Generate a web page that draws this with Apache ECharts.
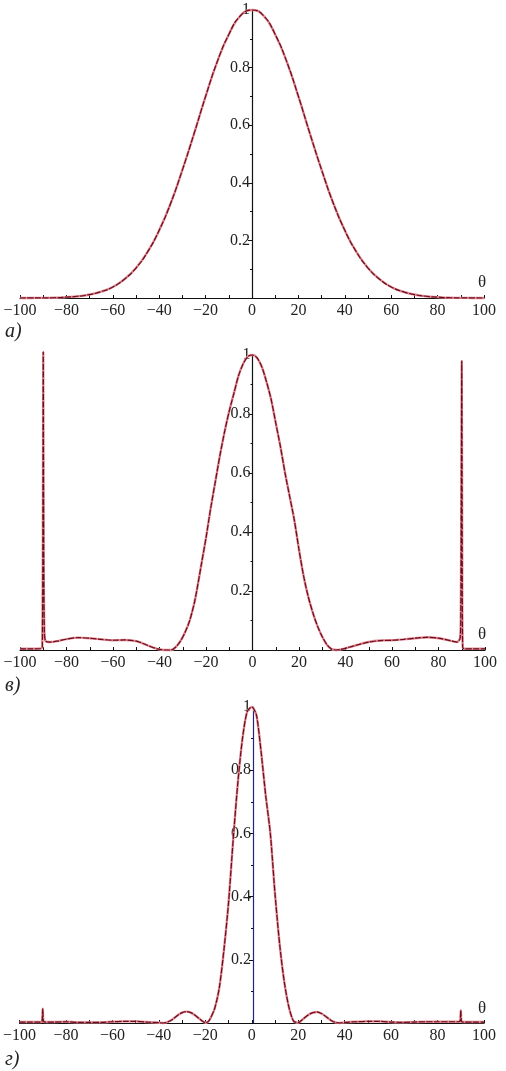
<!DOCTYPE html>
<html>
<head>
<meta charset="utf-8">
<script src="https://cdn.jsdelivr.net/npm/echarts@6/dist/echarts.min.js"></script>
<style>
  html, body { margin: 0; padding: 0; background: #fff; }
  #chart { width: 506px; height: 1071px; }
</style>
</head>
<body>
<div id="chart"></div>
<script>
// панель а)
const thetaA = [-100, -95, -90, -85, -80, -75, -70, -65, -60, -55, -50, -45, -40, -35, -30, -25, -20, -15, -10, -5,
  0, 5, 10, 15, 20, 25, 30, 35, 40, 45, 50, 55, 60, 65, 70, 75, 80, 85, 90, 95, 100]
const powerA = [0, 0.0002, 0.0005, 0.001, 0.003, 0.006, 0.012, 0.022, 0.038, 0.065, 0.104, 0.16, 0.235, 0.33, 0.445, 0.57, 0.70, 0.82, 0.915, 0.98,
  1, 0.98, 0.915, 0.82, 0.70, 0.57, 0.445, 0.33, 0.235, 0.16, 0.104, 0.065, 0.038, 0.022, 0.012, 0.006, 0.003, 0.001, 0.0005, 0.0002, 0]

// панель в)
const thetaB = [-100, -95, -91, -90.4, -90.1, -90, -89.8, -89.5, -89, -87, -84, -80, -75, -70, -65, -60, -55, -50, -47, -44, -41, -38, -35,
  -33, -31, -29, -27, -25, -24, -22, -20, -18, -16, -14, -12, -10, -8, -6, -4, -2,
  0, 2, 4, 6, 8, 10, 12, 14, 16, 18, 20, 22, 24, 26, 28, 30, 32, 34, 36,
  38, 41, 45, 50, 55, 60, 65, 70, 75, 80, 85, 88, 89.3, 89.6, 89.8, 90, 90.2, 90.4, 91, 95, 100]
const powerB = [0.004, 0.004, 0.005, 0.01, 0.6, 1.01, 0.3, 0.06, 0.03, 0.027, 0.03, 0.037, 0.042, 0.04, 0.036, 0.033, 0.034, 0.03, 0.022, 0.012, 0.004, 0, 0,
  0.01, 0.03, 0.06, 0.1, 0.16, 0.2, 0.29, 0.38, 0.48, 0.57, 0.66, 0.74, 0.81, 0.87, 0.93, 0.97, 0.995,
  1, 0.99, 0.96, 0.91, 0.85, 0.77, 0.69, 0.6, 0.52, 0.44, 0.34, 0.25, 0.18, 0.125, 0.08, 0.045, 0.018, 0.003, 0,
  0.002, 0.008, 0.017, 0.027, 0.032, 0.033, 0.036, 0.04, 0.043, 0.04, 0.032, 0.027, 0.04, 0.13, 0.5, 0.98, 0.3, 0.01, 0.004, 0.004, 0.004]

// панель г)
const thetaG = [-100, -95, -91, -90.3, -90, -89.7, -89, -85, -80, -75, -70, -65, -60, -55, -50, -45, -40, -38,
  -36, -34, -32, -30, -28, -26, -24, -22, -20, -19, -18, -16, -14, -12, -10, -8, -6, -4, -2,
  0, 2, 4, 6, 8, 10, 12, 14, 16, 18, 20, 22, 24, 26, 28, 30, 32, 34, 36, 38,
  40, 45, 50, 55, 60, 65, 70, 75, 80, 85, 89, 89.7, 90, 90.3, 91, 95, 100]
const powerG = [0.003, 0.003, 0.003, 0.005, 0.045, 0.005, 0.003, 0.003, 0.004, 0.002, 0.002, 0.002, 0.004, 0.005, 0.005, 0.003, 0.001, 0,
  0.004, 0.012, 0.024, 0.033, 0.036, 0.032, 0.022, 0.01, 0.001, 0.003, 0.012, 0.045, 0.11, 0.23, 0.38, 0.58, 0.76, 0.9, 0.985,
  1, 0.975, 0.86, 0.72, 0.6, 0.41, 0.25, 0.13, 0.05, 0.006, 0.001, 0.012, 0.024, 0.032, 0.035, 0.03, 0.02, 0.009, 0.002, 0,
  0.002, 0.004, 0.005, 0.005, 0.003, 0.002, 0.003, 0.004, 0.004, 0.004, 0.004, 0.005, 0.04, 0.005, 0.003, 0.003, 0.003]

const xTicks = [-100, -80, -60, -40, -20, 0, 20, 40, 60, 80, 100]
const yTicks = [0.2, 0.4, 0.6, 0.8, 1]
const panelNames = ['а)', 'в)', 'г)']

const FONT = 'Liberation Serif, DejaVu Serif, serif'
const zip = (xs, ys) => xs.map((x, i) => [x, ys[i]])

const grids = [
  { left: 20, width: 464, top: 10, height: 288 },
  { left: 20, width: 465, top: 355, height: 295 },
  { left: 17, width: 467, top: 707, height: 316 }
]

const makeX = (idx) => ({
  type: 'value',
  gridIndex: idx,
  min: -100,
  max: 100,
  interval: 20,
  splitLine: { show: false },
  axisLine: { onZero: false, lineStyle: { color: '#111', width: 1.2 } },
  axisTick: { inside: true, length: 3, lineStyle: { color: '#111' } },
  minorTick: { show: true, splitNumber: 2, length: 3, lineStyle: { color: '#111' } },
  axisLabel: {
    color: '#222',
    fontFamily: FONT,
    fontSize: 16,
    margin: 5,
    formatter: (v) => xTicks.includes(v) ? String(v).replace('-', '\u2212') : ''
  }
})

// ось Y проходит через θ = 0, поэтому сдвигаем её на половину ширины сетки
const makeY = (idx, color) => ({
  type: 'value',
  gridIndex: idx,
  min: 0,
  max: 1,
  interval: 0.2,
  offset: -grids[idx].width / 2,
  splitLine: { show: false },
  axisLine: { onZero: false, lineStyle: { color: color, width: 1.2 } },
  axisTick: { length: 4, lineStyle: { color: '#111' } },
  minorTick: { show: true, splitNumber: 2, length: 2, lineStyle: { color: '#111' } },
  axisLabel: {
    color: '#222',
    fontFamily: FONT,
    fontSize: 16,
    margin: 2,
    formatter: (v) => yTicks.some(t => Math.abs(t - v) < 1e-9) ? String(+v.toFixed(1)) : ''
  }
})

// каждая кривая рисуется дважды: светлая подложка + тёмный штрих
const makeSeries = (idx, xs, ys, smooth) => [
  {
    type: 'line',
    xAxisIndex: idx,
    yAxisIndex: idx,
    data: zip(xs, ys),
    smooth: smooth,
    showSymbol: false,
    clip: false,
    lineStyle: { color: '#e28994', width: 2.4 }
  },
  {
    type: 'line',
    xAxisIndex: idx,
    yAxisIndex: idx,
    data: zip(xs, ys),
    smooth: smooth,
    showSymbol: false,
    clip: false,
    lineStyle: { color: '#6a0d1a', width: 1.2, type: [6, 1.5] }
  }
]

const thetaLabel = (top) => ({
  type: 'text', left: 478, top: top,
  style: { text: 'θ', font: '17px ' + FONT, fill: '#222' }
})
const panelLabel = (top, text) => ({
  type: 'text', left: 5, top: top,
  style: { text: text, font: 'italic 20px ' + FONT, fill: '#222' }
})

const options = {
  animation: false,
  backgroundColor: '#fff',
  grid: grids,
  xAxis: [makeX(0), makeX(1), makeX(2)],
  yAxis: [makeY(0, '#111'), makeY(1, '#111'), makeY(2, '#23237e')],
  series: [
    ...makeSeries(0, thetaA, powerA, true),
    ...makeSeries(1, thetaB, powerB, 0.25),
    ...makeSeries(2, thetaG, powerG, 0.25)
  ],
  graphic: [
    thetaLabel(274), thetaLabel(626), thetaLabel(1000),
    panelLabel(322, panelNames[0]), panelLabel(676, panelNames[1]), panelLabel(1050, panelNames[2])
  ]
}

const chart = echarts.init(document.getElementById('chart'))
chart.setOption(options)
window.addEventListener('resize', function () {
  chart && chart.resize()
})
</script>
</body>
</html>
